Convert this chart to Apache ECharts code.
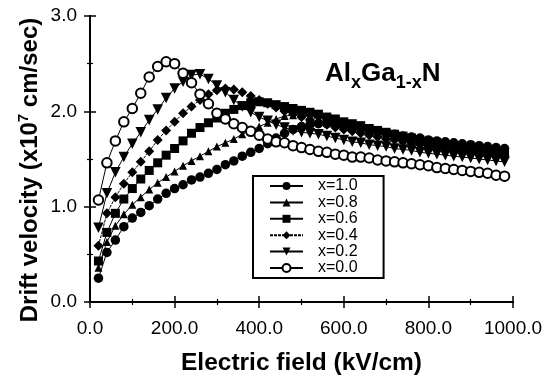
<!DOCTYPE html>
<html>
<head>
<meta charset="utf-8">
<script src="https://cdn.jsdelivr.net/npm/echarts@6/dist/echarts.min.js"></script>
<style>
  html, body { margin: 0; padding: 0; background: #fff; }
  #chart { width: 550px; height: 386px; }
</style>
</head>
<body>
<div id="chart"></div>
<script>
// electric field (kV/cm) of each sample point
const fields = [
  20, 40, 60, 80, 100, 120, 140, 160, 180, 200,
  220, 240, 260, 280, 300, 320, 340, 360, 380, 400,
  420, 440, 460, 480, 500, 520, 540, 560, 580, 600,
  620, 640, 660, 680, 700, 720, 740, 760, 780, 800,
  820, 840, 860, 880, 900, 920, 940, 960, 980
];

// drift velocity (x10^7 cm/sec)
const v10 = [
  0.25, 0.52, 0.65, 0.79, 0.88, 0.94, 1.01, 1.08, 1.14, 1.19,
  1.23, 1.28, 1.31, 1.35, 1.39, 1.44, 1.48, 1.53, 1.57, 1.61,
  1.66, 1.72, 1.77, 1.81, 1.84, 1.86, 1.87, 1.87, 1.86, 1.85,
  1.83, 1.82, 1.80, 1.79, 1.77, 1.76, 1.74, 1.73, 1.72, 1.70,
  1.69, 1.68, 1.67, 1.66, 1.65, 1.64, 1.63, 1.62, 1.61
];
const v08 = [
  0.36, 0.63, 0.80, 0.92, 1.02, 1.10, 1.18, 1.25, 1.31, 1.37,
  1.43, 1.48, 1.53, 1.58, 1.63, 1.67, 1.71, 1.76, 1.80, 1.84,
  1.88, 1.92, 1.95, 1.96, 1.96, 1.95, 1.93, 1.91, 1.89, 1.87,
  1.85, 1.83, 1.81, 1.79, 1.77, 1.75, 1.73, 1.71, 1.70, 1.68,
  1.66, 1.65, 1.64, 1.62, 1.61, 1.60, 1.59, 1.58, 1.57
];
const v06 = [
  0.43, 0.73, 0.93, 1.08, 1.19, 1.29, 1.38, 1.46, 1.54, 1.61,
  1.69, 1.77, 1.83, 1.88, 1.93, 1.98, 2.02, 2.06, 2.09, 2.10,
  2.09, 2.07, 2.05, 2.03, 2.01, 1.99, 1.97, 1.94, 1.92, 1.89,
  1.87, 1.85, 1.82, 1.80, 1.78, 1.76, 1.74, 1.72, 1.70, 1.68,
  1.67, 1.65, 1.63, 1.62, 1.60, 1.59, 1.58, 1.57, 1.56
];
const v04 = [
  0.59, 0.93, 1.10, 1.24, 1.36, 1.47, 1.58, 1.70, 1.80, 1.89,
  1.98, 2.05, 2.12, 2.18, 2.22, 2.24, 2.23, 2.20, 2.16, 2.12,
  2.08, 2.04, 2.00, 1.97, 1.94, 1.91, 1.88, 1.86, 1.83, 1.81,
  1.79, 1.77, 1.75, 1.73, 1.71, 1.70, 1.68, 1.66, 1.65, 1.63,
  1.62, 1.60, 1.59, 1.58, 1.56, 1.55, 1.54, 1.53, 1.52
];
const v02 = [
  0.78, 1.14, 1.36, 1.52, 1.66, 1.78, 1.91, 2.02, 2.14, 2.24,
  2.31, 2.38, 2.39, 2.34, 2.27, 2.20, 2.12, 2.05, 1.99, 1.94,
  1.90, 1.86, 1.83, 1.80, 1.78, 1.77, 1.76, 1.74, 1.72, 1.70,
  1.68, 1.67, 1.65, 1.64, 1.63, 1.61, 1.60, 1.59, 1.57, 1.56,
  1.55, 1.54, 1.53, 1.52, 1.51, 1.50, 1.49, 1.48, 1.47
];
const v00 = [
  1.07, 1.46, 1.69, 1.89, 2.03, 2.19, 2.36, 2.47, 2.52, 2.50,
  2.40, 2.30, 2.18, 2.08, 1.98, 1.92, 1.87, 1.83, 1.79, 1.75,
  1.71, 1.68, 1.67, 1.64, 1.62, 1.60, 1.58, 1.57, 1.55, 1.54,
  1.52, 1.52, 1.51, 1.49, 1.48, 1.47, 1.46, 1.45, 1.44, 1.43,
  1.41, 1.40, 1.39, 1.38, 1.37, 1.36, 1.35, 1.33, 1.32
];

const seriesNames = ["x=1.0", "x=0.8", "x=0.6", "x=0.4", "x=0.2", "x=0.0"];
const xTickLabels = ["0.0", "200.0", "400.0", "600.0", "800.0", "1000.0"];
const yTickLabels = ["0.0", "1.0", "2.0", "3.0"];

const FONT = "'Liberation Sans', Arial, sans-serif";

const chart = echarts.init(document.getElementById("chart"), null, { renderer: "canvas" });

const pairs = (vals) => fields.map((f, i) => [f, vals[i]]);

// marker look per series
const looks = [
  { data: v10, symbol: "circle", size: 9.5, rotate: 0 },
  { data: v08, symbol: "triangle", size: 8, rotate: 0 },
  { data: v06, symbol: "rect", size: 9, rotate: 0 },
  { data: v04, symbol: "diamond", size: 10, rotate: 0, dash: [3, 1] },
  { data: v02, symbol: "triangle", size: 10.5, rotate: 180 },
  { data: v00, symbol: "emptyCircle", size: 9.5, rotate: 0 },
];

const axisLine = { show: true, lineStyle: { color: "#000", width: 2 } };
const tick = { show: true, inside: true, length: 6, lineStyle: { color: "#000", width: 1.5 } };
const minor = { show: true, splitNumber: 2, length: 3, lineStyle: { color: "#000", width: 1.2 } };

chart.setOption({
  animation: false,
  backgroundColor: "#fff",
  textStyle: { fontFamily: FONT },
  grid: { left: 90, right: 37, top: 16, bottom: 84 },
  xAxis: [
    {
      type: "value",
      min: 0,
      max: 1000,
      interval: 200,
      position: "bottom",
      axisLine,
      axisTick: tick,
      minorTick: minor,
      splitLine: { show: false },
      axisLabel: {
        color: "#000",
        fontSize: 19,
        fontFamily: FONT,
        margin: 17,
        formatter: (v) => xTickLabels[Math.round(v / 200)],
      },
      name: "Electric field (kV/cm)",
      nameLocation: "middle",
      nameGap: 49,
      nameTextStyle: { color: "#000", fontSize: 24.5, fontWeight: "bold", fontFamily: FONT },
    },
    {
      type: "value",
      min: 0,
      max: 1000,
      interval: 200,
      position: "top",
      axisLine,
      axisTick: tick,
      minorTick: minor,
      splitLine: { show: false },
      axisLabel: { show: false },
    },
  ],
  yAxis: [
    {
      type: "value",
      min: 0,
      max: 3,
      interval: 1,
      position: "left",
      axisLine,
      axisTick: tick,
      minorTick: minor,
      splitLine: { show: false },
      axisLabel: {
        color: "#000",
        fontSize: 19,
        fontFamily: FONT,
        margin: 13,
        formatter: (v) => yTickLabels[Math.round(v)],
      },
    },
    {
      type: "value",
      min: 0,
      max: 3,
      interval: 1,
      position: "right",
      axisLine,
      axisTick: tick,
      minorTick: minor,
      splitLine: { show: false },
      axisLabel: { show: false },
    },
  ],
  legend: {
    orient: "vertical",
    left: 253,
    top: 176,
    padding: [2, 26, 2, 16],
    borderColor: "#000",
    borderWidth: 2,
    itemWidth: 33,
    itemHeight: 10,
    itemGap: 0.4,
    data: seriesNames,
    textStyle: { color: "#000", fontSize: 16, lineHeight: 13, fontFamily: FONT, padding: [0, 0, 0, 10] },
  },
  graphic: [
    {
      type: "text",
      x: 325,
      y: 61,
      style: {
        text: "{b|Al}{s|x}{b|Ga}{s|1-x}{b|N}",
        fill: "#000",
        rich: {
          b: { fontSize: 26, fontWeight: "bold", fontFamily: FONT, fill: "#000", lineHeight: 24, verticalAlign: "top" },
          s: { fontSize: 18, fontWeight: "bold", fontFamily: FONT, fill: "#000", lineHeight: 31, verticalAlign: "bottom" },
        },
      },
    },
    {
      type: "text",
      x: 30,
      y: 170,
      rotation: Math.PI / 2,
      style: {
        text: "{b|Drift velocity (x10}{p|7}{b| cm/sec)}",
        align: "center",
        verticalAlign: "middle",
        fill: "#000",
        rich: {
          b: { fontSize: 24, fontWeight: "bold", fontFamily: FONT, fill: "#000", lineHeight: 28 },
          p: { fontSize: 15, fontWeight: "bold", fontFamily: FONT, fill: "#000", verticalAlign: "top" },
        },
      },
    },
  ],
  series: looks.map((s, i) => ({
    name: seriesNames[i],
    type: "line",
    xAxisIndex: 0,
    yAxisIndex: 0,
    data: pairs(s.data),
    symbol: s.symbol,
    symbolSize: s.size,
    symbolRotate: s.rotate,
    showAllSymbol: true,
    itemStyle: { color: "#000", borderColor: "#000", borderWidth: s.symbol === "emptyCircle" ? 1.3 : 0 },
    lineStyle: { color: "#000", width: 1, type: s.dash || "solid" },
  })),
});
</script>
</body>
</html>
